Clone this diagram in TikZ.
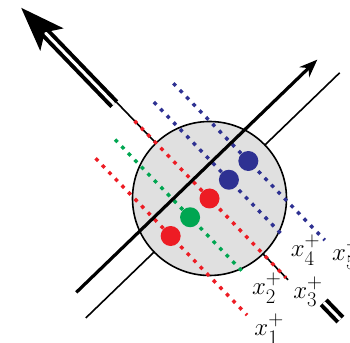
\documentclass[tikz,border=0pt]{standalone}
\usepackage{xcolor}
\usepackage{amsmath,amssymb}
\usepackage{tikz}
\usetikzlibrary{arrows.meta}
\definecolor{dotred}{RGB}{237,28,36}
\definecolor{dotgreen}{RGB}{0,166,81}
\definecolor{dotblue}{RGB}{46,49,146}
\definecolor{discgray}{RGB}{224,224,224}

\tikzset{
  thinline/.style={line width=1.6pt},
  dotline/.style={line width=3.4pt, dash pattern=on 3.6pt off 5.8pt},
  dotnode/.style={circle, inner sep=0pt, minimum size=20pt},
  fatarrow/.style={double, double distance=3pt, line width=4pt},
  lbl/.style={inner sep=0pt, font=\Huge}
}

\begin{document}
\begin{tikzpicture}[x=1pt,y=1pt]
  \useasboundingbox (0,0) rectangle (350,342);
  \clip (0,0) rectangle (350,342);
  \begin{scope}[shift={(209.5,143.5)}, rotate=44]
    \coordinate (c) at (0,0);
    \coordinate (m1) at (-172,0);
    \coordinate (m2) at (181,0);
    \coordinate (n1) at (0,134);
    \coordinate (n2) at (0,-113);
    \draw[thinline] (m1) -- (m2);
    \draw[thinline] (n1) -- (n2);
    \node[circle, draw, line width=1.6pt, fill=discgray, minimum size=154pt, inner sep=0pt] (disc) at (c) {};

    \coordinate (a1) at (-54,108);  \coordinate (b1) at (-54,-110);
    \coordinate (a2) at (-27,108);  \coordinate (b2) at (-27,-77);
    \coordinate (a3) at (0,108);    \coordinate (b3) at (0,-110);
    \coordinate (a4) at (27,108);   \coordinate (b4) at (27,-77);
    \coordinate (a5) at (54,108);   \coordinate (b5) at (54,-110);
    \draw[dotline, dotred] (a1) -- (b1);
    \draw[dotline, dotgreen] (a2) -- (b2);
    \draw[dotline, dotred] (a3) -- (b3);
    \draw[dotline, dotblue] (a4) -- (b4);
    \draw[dotline, dotblue] (a5) -- (b5);

    \node[dotnode, fill=dotred] (p1) at (-54,0) {};
    \node[dotnode, fill=dotgreen] (p2) at (-27,0) {};
    \node[dotnode, fill=dotred] (p3) at (0,0) {};
    \node[dotnode, fill=dotblue] (p4) at (27,0) {};
    \node[dotnode, fill=dotblue] (p5) at (54,0) {};

    \coordinate (k1) at (-161,25);
    \coordinate (k2) at (174,25);
    \draw[line width=3.2pt, -{Stealth[length=18pt,width=14pt]}] (k1) -- (k2);

    \coordinate (f1) at (-3,134);
    \coordinate (f2) at (-3,268);
    \draw[fatarrow, -{Stealth[length=44pt,width=32pt,inset=10pt]}] (f1) -- (f2);
    \coordinate (g1) at (10,-154);
    \coordinate (g2) at (10,-178);
    \draw[fatarrow] (g1) -- (g2);

    \node[lbl] (x1) at (-48,-135.5) {$x_1^+$};
    \node[lbl] (x2) at (-21,-104) {$x_2^+$};
    \node[lbl] (x3) at (6,-135.5) {$x_3^+$};
    \node[lbl] (x4) at (33,-104) {$x_4^+$};
    \node[lbl] (x5) at (60,-135.5) {$x_5^+$};
  \end{scope}
\end{tikzpicture}
\end{document}
